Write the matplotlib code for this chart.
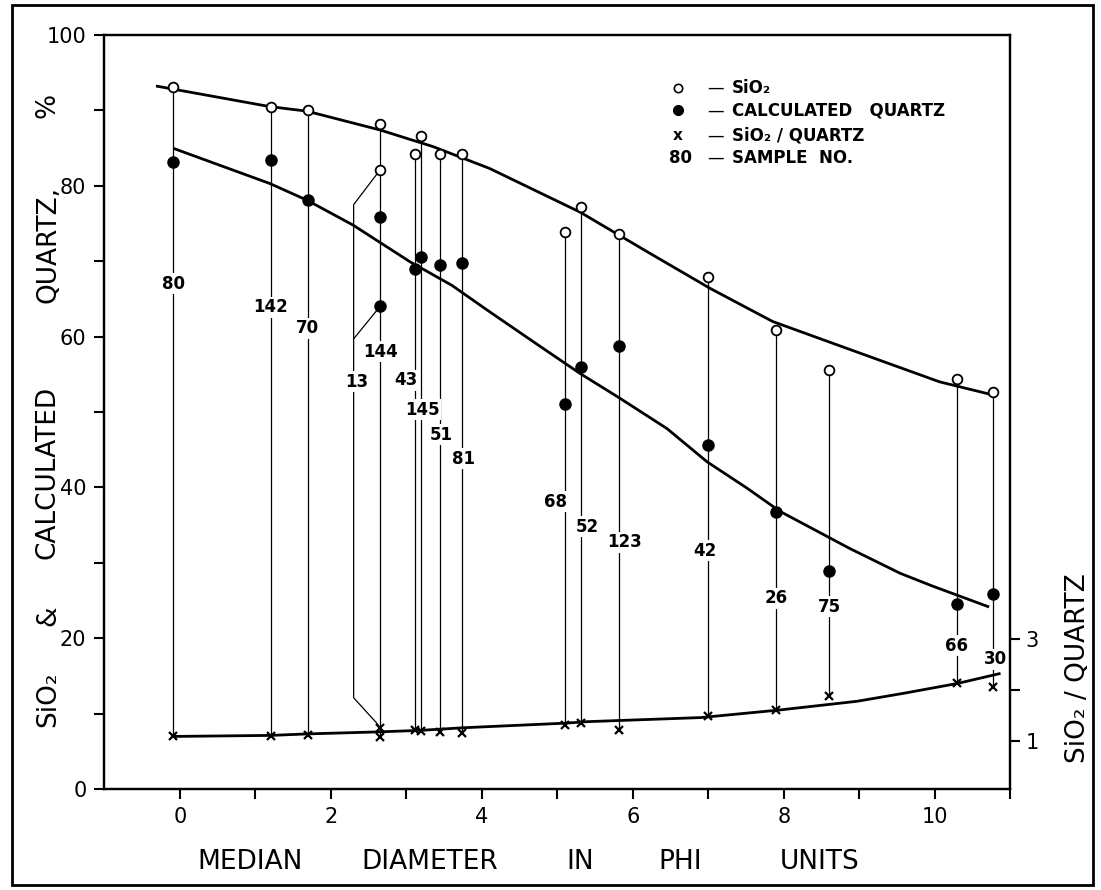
import numpy as np
import matplotlib
matplotlib.use("Agg")
import matplotlib.pyplot as plt
from matplotlib.patches import Rectangle


#%% Data (phi units, % for SiO2 / quartz, ratio on right axis)
samples = ["80", "142", "70", "13", "144", "43", "145", "51", "81",
           "68", "52", "123", "42", "26", "75", "66", "30"]
phi = [-0.09, 1.2, 1.69, 2.65, 2.65, 3.11, 3.19, 3.44, 3.73,
       5.1, 5.31, 5.81, 7.0, 7.89, 8.6, 10.29, 10.77]
sio2 = [93.1, 90.4, 90.1, 82.1, 88.2, 84.2, 86.6, 84.2, 84.2,
        73.9, 77.2, 73.6, 67.9, 60.9, 55.6, 54.4, 52.6]
quartz = [83.1, 83.4, 78.1, 64.0, 75.9, 69.0, 70.5, 69.5, 69.7,
          51.0, 55.9, 58.7, 45.6, 36.7, 28.9, 24.5, 25.8]
ratio = [1.08, 1.08, 1.11, 1.25, 1.07, 1.20, 1.19, 1.16, 1.14,
         1.31, 1.34, 1.20, 1.48, 1.60, 1.87, 2.12, 2.05]
label_y = [67.0, 63.9, 61.1, 54.0, 58.0, 54.2, 50.3, 47.0, 43.8,
           38.1, 34.8, 32.7, 31.6, 25.3, 24.2, 19.0, 17.2]

# hand drawn fitted curves
sio2_curve_x = [-0.3, 1.19, 1.68, 2.65, 3.35, 4.1, 5.3, 6.18, 7.02, 7.85, 8.87, 10.06, 10.75]
sio2_curve_y = [93.2, 90.5, 89.9, 87.4, 85.2, 82.3, 76.5, 71.3, 66.4, 62.0, 58.3, 54.0, 52.3]
qtz_curve_x = [-0.07, 1.19, 1.68, 2.29, 3.05, 3.6, 4.1, 4.77, 5.3, 5.83, 6.45,
               6.98, 7.51, 7.95, 8.87, 9.54, 9.97, 10.7]
qtz_curve_y = [84.9, 80.3, 78.1, 74.8, 69.9, 66.8, 63.3, 58.7, 55.1, 51.8, 47.8,
               43.4, 39.9, 36.8, 31.9, 28.6, 26.9, 24.2]
ratio_curve_x = [-0.08, 1.2, 1.7, 2.65, 3.2, 3.75, 5.1, 5.4, 6.9, 7.95, 8.97, 9.6, 10.3, 10.85]
ratio_curve_y = [1.08, 1.10, 1.13, 1.17, 1.20, 1.25, 1.34, 1.37, 1.45, 1.60, 1.77, 1.93, 2.12, 2.31]

# small horizontal nudges of the sample numbers off their lines
label_dx = [0, 0, 0, 0.04, 0, -0.12, 0.02, 0.02, 0.03,
            -0.13, 0.08, 0.08, -0.05, 0, 0, 0, 0.03]

#%% Figure
fig = plt.figure(figsize=(11.01, 8.90), dpi=100)
ax = fig.add_axes([0.0949, 0.1135, 0.8229, 0.8472])
ax.set_xlim(-1, 11)
ax.set_ylim(0, 100)
ax2 = ax.twinx()
ax2.set_ylim(0.049, 14.84)

# left-axis value of a point given on the right axis
to_left = ax2.transData + ax.transData.inverted()

thin = dict(color="black", lw=0.9, zorder=1)
for i, s in enumerate(samples):
    if s == "13":
        continue
    y_bot = to_left.transform((phi[i], ratio[i]))[1]
    ax.plot([phi[i], phi[i]], [sio2[i], y_bot], **thin)

# sample 13 is drawn off to the side with leaders to its points
i13 = samples.index("13")
x13 = 2.3
y13_bot = to_left.transform((phi[i13], ratio[i13]))[1]
ax.plot([phi[i13], x13, x13, 2.6, phi[i13]],
        [sio2[i13], 77.5, 12.1, 8.8, y13_bot], **thin)
ax.plot([x13, phi[i13]], [59.7, quartz[i13]], **thin)

# fitted curves
ax.plot(sio2_curve_x, sio2_curve_y, color="black", lw=2.0, zorder=2)
ax.plot(qtz_curve_x, qtz_curve_y, color="black", lw=2.0, zorder=2)
ax2.plot(ratio_curve_x, ratio_curve_y, color="black", lw=2.0, zorder=2)

# points
ax.plot(phi, sio2, "o", ms=7, mfc="white", mec="black", mew=1.3, zorder=3)
ax.plot(phi, quartz, "o", ms=8, color="black", zorder=3)
ax2.plot(phi, ratio, "x", ms=5.5, mew=1.6, color="black", zorder=3)

# sample numbers
for i, s in enumerate(samples):
    lx = (x13 if s == "13" else phi[i]) + label_dx[i]
    ax.text(lx, label_y[i], s, ha="center", va="center", fontsize=12,
            fontweight="bold", zorder=4,
            bbox=dict(fc="white", ec="none", pad=1.0))

#%% Axes styling
for a in (ax, ax2):
    for sp in a.spines.values():
        sp.set_linewidth(1.6)
ax.set_xticks(range(0, 11, 2))
ax.set_xticks(range(1, 12, 2), minor=True)
ax.set_yticks(range(0, 101, 20))
ax.set_yticks(range(10, 100, 20), minor=True)
ax.tick_params(which="both", direction="out", length=7, width=1.5,
               labelsize=15, pad=6)
ax2.set_yticks([1, 3])
ax2.set_yticks([2], minor=True)
ax2.tick_params(which="both", direction="out", length=7, width=1.5,
                labelsize=15, pad=4)

# legend written by hand, as on the original
leg_rows = [0.930, 0.900, 0.867, 0.837]
ax.plot(0.633, leg_rows[0], "o", ms=6, mfc="white", mec="black", mew=1.2,
        transform=ax.transAxes)
ax.plot(0.633, leg_rows[1], "o", ms=7, color="black", transform=ax.transAxes)
ax.text(0.633, leg_rows[2], "x", ha="center", va="center", fontsize=11,
        fontweight="bold", transform=ax.transAxes)
ax.text(0.636, leg_rows[3], "80", ha="center", va="center", fontsize=12,
        fontweight="bold", transform=ax.transAxes)
leg_text = ["SiO₂", "CALCULATED   QUARTZ", "SiO₂ / QUARTZ", "SAMPLE  NO."]
for yy, t in zip(leg_rows, leg_text):
    ax.text(0.674, yy, "—", ha="center", va="center", fontsize=12,
            transform=ax.transAxes)
    ax.text(0.6925, yy, t, ha="left", va="center", fontsize=12,
            fontweight="bold", transform=ax.transAxes)

#%% Axis titles, word by word as they are spaced out on the original
xlab_parts = [("MEDIAN", 250), ("DIAMETER", 430), ("IN", 580),
              ("PHI", 680), ("UNITS", 820)]
for t, px in xlab_parts:
    fig.text(px / 1101, 0.031, t, ha="center", va="center", fontsize=19)
ylab_parts = [("SiO₂", 699), ("&", 616), ("CALCULATED", 472),
              ("QUARTZ,", 244), ("%", 105)]
for t, py in ylab_parts:
    fig.text(48 / 1101, 1 - py / 890, t, rotation=90, ha="center",
             va="center", fontsize=19)
fig.text(1078 / 1101, 1 - 668 / 890, "SiO₂ / QUARTZ", rotation=90,
         ha="center", va="center", fontsize=19)

# page border of the scan
fig.patches.append(Rectangle((12 / 1101, 5 / 890), 1081 / 1101, 880 / 890,
                             transform=fig.transFigure, fill=False,
                             lw=2, ec="black"))

fig.savefig("out.png", dpi=100)
